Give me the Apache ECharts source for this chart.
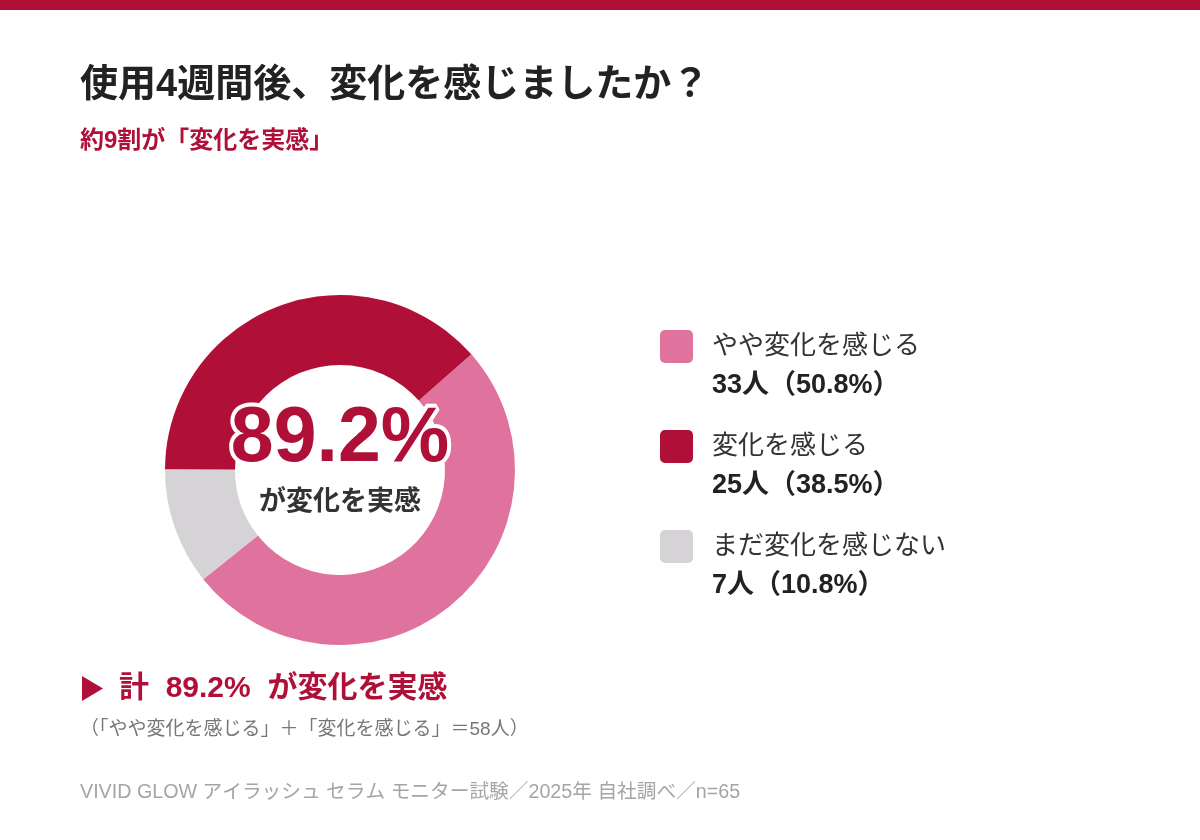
<!DOCTYPE html>
<html><head><meta charset="utf-8">
<script src="https://cdn.jsdelivr.net/npm/echarts@6/dist/echarts.min.js"></script>
<style>html,body{margin:0;padding:0;background:#fff}#c{width:1200px;height:840px}</style>
</head><body><div id="c"></div>
<script>
const categories = ['やや変化を感じる', '変化を感じる', 'まだ変化を感じない'];
const counts = [33, 25, 7];
const percents = [50.8, 38.5, 10.8];
const colors = ['#e0739d', '#b01038', '#d5d3d6'];
const total = 65;

const FONT = "'Liberation Sans','Noto Sans CJK JP',sans-serif";
const RED = '#b01038';
const changed = counts[0] + counts[1];
const changedPct = (changed / total * 100).toFixed(1);

const legendGraphics = [];
categories.forEach((c, i) => {
  const y0 = 330 + i * 100;
  legendGraphics.push(
    {type: 'rect', x: 660, y: y0, shape: {width: 33, height: 33, r: 5}, style: {fill: colors[i]}},
    {type: 'text', x: 712, y: y0 + 17, style: {text: c, fontSize: 26, fill: '#333', verticalAlign: 'middle', fontFamily: FONT}},
    {type: 'text', x: 712, y: y0 + 56, style: {text: counts[i] + '人（' + percents[i].toFixed(1) + '%）', fontSize: 27, fontWeight: 'bold', fill: '#222', verticalAlign: 'middle', fontFamily: FONT}}
  );
});

const chart = echarts.init(document.getElementById('c'), null, {renderer: 'canvas'});
chart.setOption({
  backgroundColor: '#ffffff',
  animation: false,
  textStyle: {fontFamily: FONT},
  series: [{
    type: 'pie',
    center: [340, 470],
    radius: [105, 175],
    startAngle: 218.6,
    clockwise: false,
    label: {show: false},
    labelLine: {show: false},
    emphasis: {disabled: true},
    itemStyle: {borderWidth: 0},
    data: categories.map((c, i) => ({name: c, value: counts[i], itemStyle: {color: colors[i]}}))
  }],
  graphic: [
    {type: 'rect', left: 0, top: 0, shape: {width: 1200, height: 10}, style: {fill: RED}},
    {type: 'text', x: 80, y: 86, style: {text: '使用4週間後、変化を感じましたか？', fontSize: 38, fontWeight: 'bold', fill: '#222', verticalAlign: 'middle', fontFamily: FONT}},
    {type: 'text', x: 80, y: 141, style: {text: '約9割が「変化を実感」', fontSize: 24, fontWeight: 'bold', fill: RED, verticalAlign: 'middle', fontFamily: FONT}},
    {type: 'text', x: 340, y: 440, style: {text: changedPct + '%', fontSize: 77, fontWeight: 'bold', fill: RED, stroke: '#fff', lineWidth: 8, align: 'center', verticalAlign: 'middle', fontFamily: FONT}, z: 100},
    {type: 'text', x: 340, y: 503, style: {text: 'が変化を実感', fontSize: 27, fontWeight: 'bold', fill: '#333', align: 'center', verticalAlign: 'middle', fontFamily: FONT}, z: 100},
    {type: 'polygon', shape: {points: [[82, 676], [82, 701], [103, 688.5]]}, style: {fill: RED}},
    {type: 'text', x: 119, y: 689, style: {text: '計  ' + changedPct + '%  が変化を実感', fontSize: 30, fontWeight: 'bold', fill: RED, verticalAlign: 'middle', fontFamily: FONT}},
    {type: 'text', x: 80, y: 730, style: {text: '（「' + categories[0] + '」＋「' + categories[1] + '」＝' + changed + '人）', fontSize: 19, fill: '#777', verticalAlign: 'middle', fontFamily: FONT}},
    {type: 'text', x: 80, y: 793, style: {text: 'VIVID GLOW アイラッシュ セラム モニター試験／2025年 自社調べ／n=' + total, fontSize: 19.7, fill: '#a5a5a5', verticalAlign: 'middle', fontFamily: FONT}}
  ].concat(legendGraphics)
});
</script></body></html>
